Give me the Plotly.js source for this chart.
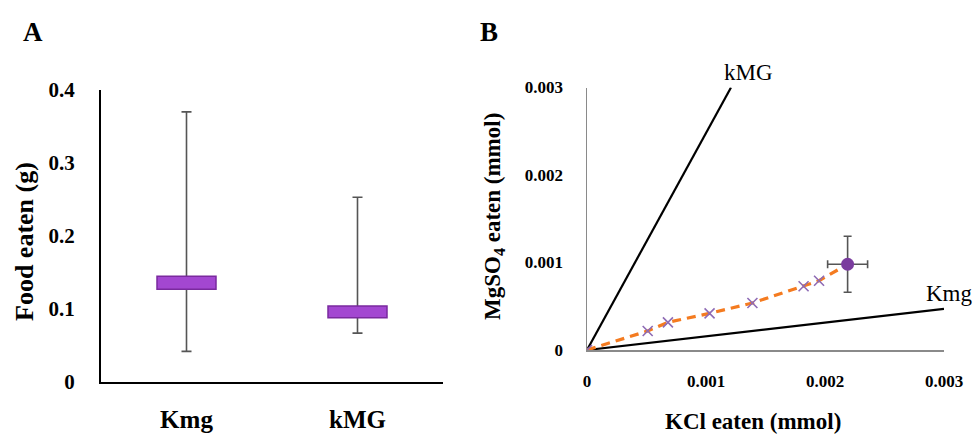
<!DOCTYPE html>
<html>
<head>
<meta charset="utf-8">
<script src="https://cdn.plot.ly/plotly-3.0.1.min.js"></script>
<style>html,body{margin:0;padding:0;background:#fff;}#chart{width:977px;height:437px;}</style>
</head>
<body>
<div id="chart"></div>
<script>
// ---- Panel A data ----
const groupsA = ['Kmg', 'kMG'];
const q1A = [0.127, 0.088];
const q3A = [0.145, 0.104];
const lowA = [0.042, 0.067];
const highA = [0.370, 0.253];
const yTicksA = [0, 0.1, 0.2, 0.3, 0.4];
const yTickTextA = ['0', '0.1', '0.2', '0.3', '0.4'];

// ---- Panel B data ----
const kclEaten = [0, 0.00051, 0.00068, 0.00103, 0.00139, 0.00182, 0.00195];
const mgso4Eaten = [0, 0.000217, 0.000316, 0.000419, 0.000537, 0.000728, 0.000792];
const endKcl = [0.00219];
const endMg = [0.00098];
const endKclErr = [0.000168];
const endMgErr = [0.00032];
const kMGLineX = [0, 0.00121];
const kMGLineY = [0, 0.003];
const KmgLineX = [0, 0.003];
const KmgLineY = [0, 0.00047];
const ticksB = [0, 0.001, 0.002, 0.003];
const tickTextB = ['0', '0.001', '0.002', '0.003'];
const lineLabels = ['kMG', 'Kmg'];

const serif = 'Liberation Serif, Times New Roman, serif';

const whiskerMid = highA.map((h, i) => (h + lowA[i]) / 2);
const traces = [
  { // whiskers (under box)
    type: 'scatter', mode: 'markers', x: groupsA, y: whiskerMid,
    marker: {size: 1, color: 'rgba(0,0,0,0)'},
    error_y: {type: 'data', symmetric: false,
      array: highA.map((h, i) => h - whiskerMid[i]),
      arrayminus: whiskerMid.map((m, i) => m - lowA[i]),
      color: '#555555', thickness: 1.6, width: 5},
    xaxis: 'x', yaxis: 'y', hoverinfo: 'skip', showlegend: false
  },
  { // boxes on overlaying axis so they sit on top
    type: 'bar', x: groupsA, base: q1A, y: q3A.map((q, i) => q - q1A[i]),
    width: 0.345,
    marker: {color: '#A347D1', line: {color: '#7A2A9E', width: 1.5}},
    xaxis: 'x', yaxis: 'y3', showlegend: false
  },
  {
    type: 'scatter', mode: 'lines', x: kMGLineX, y: kMGLineY,
    line: {color: '#000000', width: 2.2}, xaxis: 'x2', yaxis: 'y2', showlegend: false
  },
  {
    type: 'scatter', mode: 'lines', x: KmgLineX, y: KmgLineY,
    line: {color: '#000000', width: 2.2}, xaxis: 'x2', yaxis: 'y2', showlegend: false
  },
  {
    type: 'scatter', mode: 'lines', x: kclEaten.concat(endKcl), y: mgso4Eaten.concat(endMg),
    line: {color: '#F47B20', width: 3.2, dash: '9px,6px'}, xaxis: 'x2', yaxis: 'y2', showlegend: false
  },
  {
    type: 'scatter', mode: 'markers', x: kclEaten, y: mgso4Eaten,
    marker: {symbol: 'x-thin', size: 10, line: {color: '#8E6BB5', width: 1.6}},
    xaxis: 'x2', yaxis: 'y2', showlegend: false
  },
  {
    type: 'scatter', mode: 'markers', x: endKcl, y: endMg,
    marker: {symbol: 'circle', size: 13, color: '#7A3C9E'},
    error_y: {type: 'data', array: endMgErr, color: '#555555', thickness: 1.6, width: 4},
    error_x: {type: 'data', array: endKclErr, color: '#555555', thickness: 1.6, width: 4},
    xaxis: 'x2', yaxis: 'y2', showlegend: false
  }
];

// B-panel coordinate helpers (paper fractions from the B axes domain)
const bx0 = 587/977, bx1 = 944/977, by0 = (437-350)/437, by1 = (437-87.5)/437;
const bxp = v => bx0 + (v / 0.003) * (bx1 - bx0);
const byp = v => by0 + (v / 0.003) * (by1 - by0);

const layout = {
  width: 977, height: 437,
  margin: {l: 0, r: 0, t: 0, b: 0},
  paper_bgcolor: '#ffffff', plot_bgcolor: 'rgba(0,0,0,0)',
  showlegend: false,
  font: {family: serif, color: '#000000'},
  xaxis: {
    domain: [101/977, 443/977], range: [-0.5, 1.5], type: 'category',
    showline: true, linecolor: '#000000', linewidth: 2, showgrid: false, zeroline: false,
    ticks: '', ticklabelstandoff: 14, tickfont: {family: serif, size: 25, color: '#000', weight: 'bold'},
    anchor: 'y', fixedrange: true
  },
  yaxis: {
    domain: [(437-382)/437, (437-90)/437], range: [0, 0.4],
    showline: true, linecolor: '#000000', linewidth: 2, showgrid: false, zeroline: false,
    tickvals: yTicksA, ticktext: yTickTextA, ticks: '', ticklabelstandoff: 20,
    tickfont: {family: serif, size: 21, color: '#000', weight: 'bold'},
    anchor: 'x', fixedrange: true
  },
  yaxis3: {
    overlaying: 'y', range: [0, 0.4], visible: false, anchor: 'x', fixedrange: true
  },
  xaxis2: {
    domain: [bx0, bx1], range: [0, 0.003],
    showline: true, linecolor: '#8a8a8a', linewidth: 1.5, showgrid: false, zeroline: false,
    tickvals: ticksB, ticktext: tickTextB, ticks: '', ticklabelstandoff: 15,
    tickfont: {family: serif, size: 17, color: '#000', weight: 'bold'},
    anchor: 'y2', fixedrange: true
  },
  yaxis2: {
    domain: [by0, by1], range: [0, 0.003],
    showline: true, linecolor: '#8a8a8a', linewidth: 1.5, showgrid: false, zeroline: false,
    tickvals: ticksB, ticktext: tickTextB, ticks: '', ticklabelstandoff: 19,
    tickfont: {family: serif, size: 17, color: '#000', weight: 'bold'},
    anchor: 'x2', fixedrange: true
  },
  annotations: [
    {text: '<b>A</b>', xref: 'paper', yref: 'paper', x: 33/977, y: 1 - 32/437, showarrow: false,
      font: {family: serif, size: 27, color: '#000'}, xanchor: 'center', yanchor: 'middle'},
    {text: '<b>B</b>', xref: 'paper', yref: 'paper', x: 489/977, y: 1 - 32/437, showarrow: false,
      font: {family: serif, size: 27, color: '#000'}, xanchor: 'center', yanchor: 'middle'},
    {text: '<b>Food eaten (g)</b>', xref: 'paper', yref: 'paper', x: 24/977, y: 1 - 242/437, showarrow: false,
      textangle: -90, font: {family: serif, size: 26, color: '#000'}, xanchor: 'center', yanchor: 'middle'},
    {text: '<b>KCl eaten (mmol)</b>', xref: 'paper', yref: 'paper', x: 753/977, y: 1 - 421/437, showarrow: false,
      font: {family: serif, size: 23, color: '#000'}, xanchor: 'center', yanchor: 'middle'},
    {text: '<b>MgSO<sub>4</sub> eaten (mmol)</b>', xref: 'paper', yref: 'paper', x: 494/977, y: 1 - 216/437, showarrow: false,
      textangle: -90, font: {family: serif, size: 23, color: '#000'}, xanchor: 'center', yanchor: 'middle'},
    {text: lineLabels[0], xref: 'paper', yref: 'paper', x: bxp(0.00136), y: byp(0.003166), showarrow: false,
      font: {family: serif, size: 23, color: '#000'}, xanchor: 'center', yanchor: 'middle'},
    {text: lineLabels[1], xref: 'paper', yref: 'paper', x: bxp(0.00305), y: byp(0.00065), showarrow: false,
      font: {family: serif, size: 23, color: '#000'}, xanchor: 'center', yanchor: 'middle'}
  ]
};

Plotly.newPlot('chart', traces, layout, {displayModeBar: false, staticPlot: true});
</script>
</body>
</html>
